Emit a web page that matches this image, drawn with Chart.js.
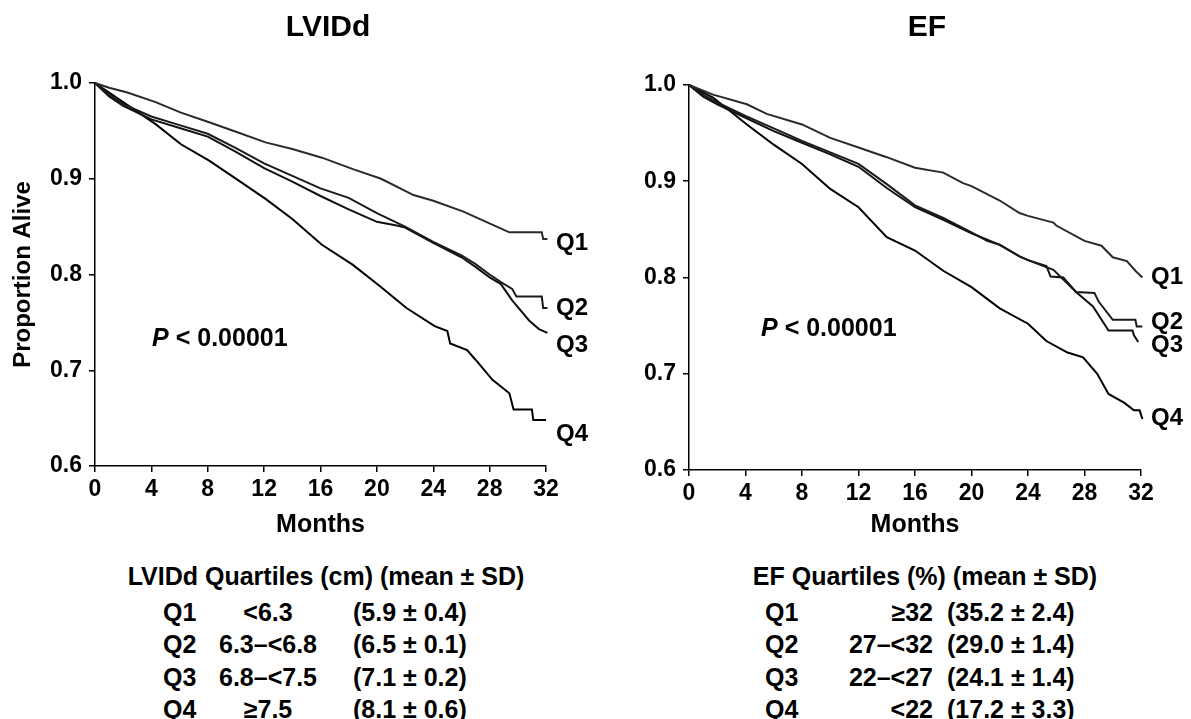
<!DOCTYPE html>
<html>
<head>
<meta charset="utf-8">
<script src="https://cdn.jsdelivr.net/npm/chart.js@4.4.1/dist/chart.umd.min.js"></script>
<style>
  body { margin: 0; background: #fff; width: 1191px; height: 719px; position: relative; overflow: hidden;
         font-family: "Liberation Sans", Arial, sans-serif; font-weight: bold; color: #000; }
  canvas { position: absolute; top: 0; }
  #lv { left: 0; }
  #ef { left: 600px; }
  .t { position: absolute; white-space: nowrap; line-height: 1; }
  .title { font-size: 30px; top: 11px; transform: translateX(-50%); }
  .tbl { font-size: 25px; }
  .c { transform: translateX(-50%); }
  .r { transform: translateX(-100%); }
</style>
</head>
<body>
<canvas id="lv" width="600" height="545"></canvas>
<canvas id="ef" width="591" height="545"></canvas>
<div class="t title" style="left:328px">LVIDd</div>
<div class="t title" style="left:927px">EF</div>
<div id="tables"></div>
<script>
// Kaplan-Meier curves (months, proportion alive)
const quartiles = ['Q1', 'Q2', 'Q3', 'Q4'];

const lvQ1M = [0, 1, 2.3, 4.3, 6.1, 8.1, 10.2, 12.1, 14, 16.1, 18.3, 20.3, 22.6, 24, 26.1, 28.5, 29.4, 31.7, 31.8, 32.1];
const lvQ1V = [1.0, 0.995, 0.990, 0.980, 0.969, 0.959, 0.948, 0.938, 0.931, 0.922, 0.910, 0.900, 0.883, 0.877, 0.866, 0.850, 0.844, 0.844, 0.837, 0.837];
const lvQ2M = [0, 1, 2, 4, 6, 8, 10, 12, 14, 16, 18, 20, 22, 24, 26, 27, 28, 28.8, 29.6, 29.9, 31.7, 31.8, 32.1];
const lvQ2V = [1.0, 0.988, 0.978, 0.965, 0.956, 0.947, 0.932, 0.916, 0.903, 0.890, 0.880, 0.864, 0.850, 0.834, 0.820, 0.811, 0.800, 0.792, 0.785, 0.777, 0.777, 0.765, 0.765];
const lvQ3M = [0, 1, 2, 4, 6, 8, 10, 12, 14, 16, 18, 20, 21.5, 22, 24, 26, 27, 28, 28.8, 29.6, 30.8, 31.5, 32.1];
const lvQ3V = [1.0, 0.986, 0.976, 0.962, 0.953, 0.944, 0.928, 0.911, 0.897, 0.882, 0.868, 0.855, 0.851, 0.849, 0.833, 0.818, 0.808, 0.797, 0.790, 0.773, 0.752, 0.743, 0.739];
const lvQ4M = [0, 1.5, 4.3, 6.1, 8.1, 10.2, 12.1, 14, 16.1, 18.3, 20.2, 22.1, 24.1, 25, 25.2, 26.4, 27, 28.2, 29.4, 29.7, 31, 31.1, 32, 32.1];
const lvQ4V = [1.0, 0.985, 0.957, 0.936, 0.919, 0.898, 0.879, 0.858, 0.831, 0.810, 0.788, 0.765, 0.746, 0.741, 0.728, 0.721, 0.711, 0.690, 0.676, 0.659, 0.659, 0.648, 0.648, 0.638];

const efQ1M = [0, 1.7, 4.1, 5.5, 8, 10, 12, 14, 16, 18, 19.4, 20, 22, 23.4, 24, 25.8, 26, 28, 29.2, 30, 31, 31.6, 32.1];
const efQ1V = [1.0, 0.990, 0.980, 0.970, 0.959, 0.945, 0.935, 0.925, 0.914, 0.909, 0.898, 0.895, 0.880, 0.867, 0.864, 0.857, 0.854, 0.838, 0.833, 0.821, 0.817, 0.807, 0.800];
const efQ2M = [0, 1, 2, 4, 6, 8, 10, 12, 14, 16, 18, 20, 21.1, 22, 23.4, 24, 25.8, 27.4, 28.7, 29, 30, 31.6, 31.7, 32.1];
const efQ2V = [1.0, 0.990, 0.982, 0.968, 0.955, 0.942, 0.930, 0.918, 0.897, 0.875, 0.862, 0.847, 0.838, 0.834, 0.822, 0.818, 0.808, 0.785, 0.784, 0.775, 0.756, 0.756, 0.749, 0.749];
const efQ3M = [0, 1, 2, 4, 6, 8, 10, 12, 14, 16, 18, 20, 22, 23.4, 24, 25.3, 25.6, 26.5, 27.4, 28.6, 29.7, 31.4, 31.5, 31.8];
const efQ3V = [1.0, 0.988, 0.980, 0.966, 0.952, 0.940, 0.928, 0.915, 0.893, 0.873, 0.860, 0.846, 0.834, 0.822, 0.818, 0.812, 0.801, 0.800, 0.785, 0.770, 0.745, 0.745, 0.740, 0.733];
const efQ4M = [0, 1.7, 4.1, 6, 8, 10, 12, 14, 16, 18, 20, 22, 24, 25.3, 26.8, 27.9, 28.9, 29.7, 30.8, 31.5, 31.9, 32.1];
const efQ4V = [1.0, 0.987, 0.959, 0.938, 0.918, 0.892, 0.873, 0.842, 0.828, 0.807, 0.790, 0.768, 0.752, 0.734, 0.722, 0.717, 0.700, 0.679, 0.670, 0.662, 0.662, 0.653];

const monthTicks = [0, 4, 8, 12, 16, 20, 24, 28, 32];
const aliveTicks = [0.6, 0.7, 0.8, 0.9, 1.0];

// quartile tables
const lvRanges = ['<6.3', '6.3\u2013<6.8', '6.8\u2013<7.5', '\u22657.5'];
const lvMeans = ['(5.9 \u00b1 0.4)', '(6.5 \u00b1 0.1)', '(7.1 \u00b1 0.2)', '(8.1 \u00b1 0.6)'];
const efRanges = ['\u226532', '27\u2013<32', '22\u2013<27', '<22'];
const efMeans = ['(35.2 \u00b1 2.4)', '(29.0 \u00b1 1.4)', '(24.1 \u00b1 1.4)', '(17.2 \u00b1 3.3)'];

const FONT = '"Liberation Sans", Arial, sans-serif';
Chart.defaults.font.family = FONT;
Chart.defaults.color = '#000';

const pair = (m, v) => m.map((x, i) => ({ x: x, y: v[i] }));

// Q1..Q4 tags at the right end and the P value text
const curveText = {
    id: 'curveText',
    afterDatasetsDraw(chart, args, o) {
        const { ctx } = chart;
        const x = chart.scales.x, y = chart.scales.y;
        ctx.save();
        ctx.fillStyle = '#000';
        ctx.textBaseline = 'middle';
        ctx.textAlign = 'left';
        ctx.font = 'bold 24px ' + FONT;
        o.tagAt.forEach((v, i) => {
            ctx.fillText(quartiles[i], x.getPixelForValue(32) + 10, y.getPixelForValue(v));
        });
        const px = x.getPixelForValue(o.pAt[0]);
        const py = y.getPixelForValue(o.pAt[1]);
        ctx.font = 'italic bold 25px ' + FONT;
        ctx.fillText('P', px, py);
        const w = ctx.measureText('P').width;
        ctx.font = 'bold 25px ' + FONT;
        ctx.fillText(' < 0.00001', px + w, py);
        ctx.restore();
    },
};

function panel(id, ms, vs, o) {
    const colors = ['#2a2a2a', '#1a1a1a', '#111', '#000'];
    return new Chart(document.getElementById(id), {
        type: 'line',
        data: {
            datasets: ms.map((m, i) => ({
                label: quartiles[i],
                data: pair(m, vs[i]),
                borderColor: colors[i],
                borderWidth: 2,
                pointRadius: 0,
                tension: 0,
                clip: false,
            })),
        },
        options: {
            responsive: false,
            animation: false,
            layout: { padding: o.padding },
            plugins: {
                legend: { display: false },
                tooltip: { enabled: false },
                curveText: { tagAt: o.tagAt, pAt: o.pAt },
            },
            scales: {
                x: {
                    type: 'linear',
                    min: 0,
                    max: 32,
                    afterBuildTicks: (s) => { s.ticks = monthTicks.map(v => ({ value: v })); },
                    afterFit: (s) => { s.height = o.xHeight; },
                    ticks: { font: { size: 23, weight: 'bold' }, padding: 4, maxRotation: 0 },
                    grid: { drawOnChartArea: false, tickLength: 6, color: '#000', lineWidth: 1.5 },
                    border: { color: '#000', width: 1.5 },
                    title: { display: true, text: 'Months', font: { size: 25, weight: 'bold' }, padding: { top: 0, bottom: 5 } },
                },
                y: {
                    min: 0.6,
                    max: 1.0,
                    afterBuildTicks: (s) => { s.ticks = aliveTicks.map(v => ({ value: v })); },
                    afterFit: (s) => { s.width = o.yWidth; },
                    ticks: { font: { size: 23, weight: 'bold' }, padding: 7, callback: v => v.toFixed(1) },
                    grid: { drawOnChartArea: false, tickLength: 6, color: '#000', lineWidth: 1.5 },
                    border: { color: '#000', width: 1.5 },
                    title: { display: o.yTitle, text: 'Proportion Alive', font: { size: 24, weight: 'bold' }, padding: { top: 9, bottom: 0 } },
                },
            },
        },
        plugins: [curveText],
    });
}

panel('lv', [lvQ1M, lvQ2M, lvQ3M, lvQ4M], [lvQ1V, lvQ2V, lvQ3V, lvQ4V], {
    padding: { top: 83, right: 54, left: 0, bottom: 0 },
    xHeight: 79, yWidth: 95, yTitle: true,
    tagAt: [0.833, 0.765, 0.726, 0.633],
    pAt: [4.05, 0.733],
});

panel('ef', [efQ1M, efQ2M, efQ3M, efQ4M], [efQ1V, efQ2V, efQ3V, efQ4V], {
    padding: { top: 85, right: 50, left: 0, bottom: 0 },
    xHeight: 75, yWidth: 89, yTitle: false,
    tagAt: [0.800, 0.753, 0.729, 0.654],
    pAt: [5.1, 0.746],
});

// tables under the charts
function table(header, headerX, qX, rangeX, rangeCls, meanX, ranges, means) {
    const rowsY = [600, 632, 665, 697];
    let html = `<div class="t tbl c" style="left:${headerX}px;top:564px">${header}</div>`;
    quartiles.forEach((q, i) => {
        html += `<div class="t tbl" style="left:${qX}px;top:${rowsY[i]}px">${q}</div>`;
        html += `<div class="t tbl ${rangeCls}" style="left:${rangeX}px;top:${rowsY[i]}px">${ranges[i].replace(/</g, '&lt;')}</div>`;
        html += `<div class="t tbl" style="left:${meanX}px;top:${rowsY[i]}px">${means[i]}</div>`;
    });
    return html;
}
document.getElementById('tables').innerHTML =
    table('LVIDd Quartiles (cm) (mean \u00b1 SD)', 326, 163, 268, 'c', 353, lvRanges, lvMeans) +
    table('EF Quartiles (%) (mean \u00b1 SD)', 925, 765, 933, 'r', 947, efRanges, efMeans);
</script>
</body>
</html>
